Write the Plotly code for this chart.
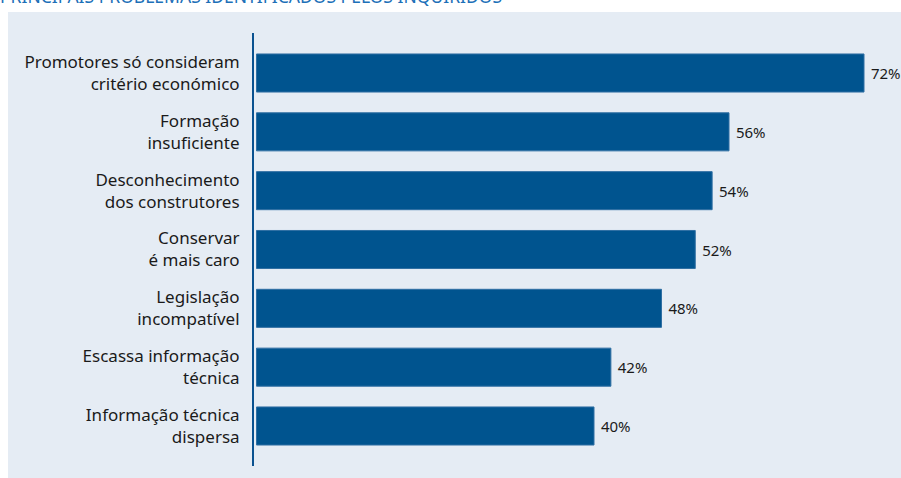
import plotly.graph_objects as go

categories = [
    "Promotores só consideram<br>critério económico",
    "Formação<br>insuficiente",
    "Desconhecimento<br>dos construtores",
    "Conservar<br>é mais caro",
    "Legislação<br>incompatível",
    "Escassa informação<br>técnica",
    "Informação técnica<br>dispersa",
]
values = [72, 56, 54, 52, 48, 42, 40]
value_labels = [f" {v}%" for v in values]
title_text = "PRINCIPAIS PROBLEMAS IDENTIFICADOS PELOS INQUIRIDOS"

W, H = 901, 478
L, R, T, B = 254, 21, 33, 12
pw = W - L - R
ph = H - T - B

def px_x(p):
    return (p - L) / pw

def px_y(p):
    return (H - B - p) / ph

fig = go.Figure(go.Bar(
    x=values,
    y=categories,
    orientation="h",
    marker=dict(color="#00548f", line=dict(color="#2f6fa3", width=1)),
    text=value_labels,
    textposition="outside",
    textfont=dict(family="Noto Sans", size=15, color="#1a1a1a"),
    cliponaxis=False,
    width=0.647,
))

fig.update_layout(
    width=W, height=H,
    margin=dict(l=L, r=R, t=T, b=B, pad=0),
    paper_bgcolor="white",
    plot_bgcolor="rgba(0,0,0,0)",
    showlegend=False,
    font=dict(family="Noto Sans", size=17, color="#1a1a1a"),
    shapes=[dict(
        type="rect", xref="paper", yref="paper", layer="below",
        x0=px_x(8), x1=px_x(W + 2), y0=px_y(H + 2), y1=px_y(12),
        fillcolor="#e5ecf4", line=dict(width=0),
    )],
    annotations=[dict(
        text=title_text, xref="paper", yref="paper",
        x=px_x(-2), y=px_y(10), xanchor="left", yanchor="bottom",
        showarrow=False,
        font=dict(family="Noto Sans", size=17.5, color="#1d70b8"),
    )],
)

fig.update_xaxes(
    range=[-(256.5 - L) / 8.4375, (W - R - 256.5) / 8.4375],
    showgrid=False, zeroline=False, showticklabels=False, showline=False,
)
fig.update_yaxes(
    categoryorder="array", categoryarray=categories,
    range=[6.68, -0.68],
    showgrid=False, zeroline=False,
    showline=True, linecolor="#0a5290", linewidth=2,
    ticks="", ticklabelstandoff=9,
    tickfont=dict(family="Noto Sans", size=17, color="#1a1a1a"),
)

fig.write_html("out.html")
